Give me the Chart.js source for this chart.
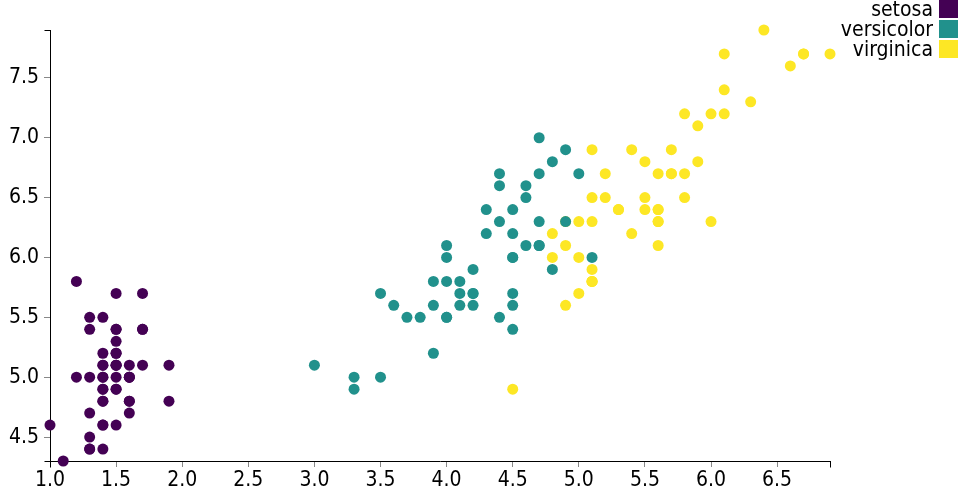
<!DOCTYPE html>
<html><head><meta charset="utf-8">
<script src="https://cdn.jsdelivr.net/npm/chart.js@4"></script>
<style>html,body{margin:0;padding:0;background:#fff}#wrap{width:960px;height:500px;position:relative}</style>
</head><body><div id="wrap"><canvas id="c" width="960" height="500"></canvas></div>
<script>
const species = ["setosa", "versicolor", "virginica"];
const colors = ["#440154", "#21918c", "#fde725"];
const setosaPetal = [1.4,1.4,1.3,1.5,1.4,1.7,1.4,1.5,1.4,1.5,1.5,1.6,1.4,1.1,1.2,1.5,1.3,1.4,1.7,1.5,1.7,1.5,1.0,1.7,1.9,1.6,1.6,1.5,1.4,1.6,1.6,1.5,1.5,1.4,1.5,1.2,1.3,1.4,1.3,1.5,1.3,1.3,1.3,1.6,1.9,1.4,1.6,1.4,1.5,1.4];
const setosaSepal = [5.1,4.9,4.7,4.6,5.0,5.4,4.6,5.0,4.4,4.9,5.4,4.8,4.8,4.3,5.8,5.7,5.4,5.1,5.7,5.1,5.4,5.1,4.6,5.1,4.8,5.0,5.0,5.2,5.2,4.7,4.8,5.4,5.2,5.5,4.9,5.0,5.5,4.9,4.4,5.1,5.0,4.5,4.4,5.0,5.1,4.8,5.1,4.6,5.3,5.0];
const versicolorPetal = [4.7,4.5,4.9,4.0,4.6,4.5,4.7,3.3,4.6,3.9,3.5,4.2,4.0,4.7,3.6,4.4,4.5,4.1,4.5,3.9,4.8,4.0,4.9,4.7,4.3,4.4,4.8,5.0,4.5,3.5,3.8,3.7,3.9,5.1,4.5,4.5,4.7,4.4,4.1,4.0,4.4,4.6,4.0,3.3,4.2,4.2,4.2,4.3,3.0,4.1];
const versicolorSepal = [7.0,6.4,6.9,5.5,6.5,5.7,6.3,4.9,6.6,5.2,5.0,5.9,6.0,6.1,5.6,6.7,5.6,5.8,6.2,5.6,5.9,6.1,6.3,6.1,6.4,6.6,6.8,6.7,6.0,5.7,5.5,5.5,5.8,6.0,5.4,6.0,6.7,6.3,5.6,5.5,5.5,6.1,5.8,5.0,5.6,5.7,5.7,6.2,5.1,5.7];
const virginicaPetal = [6.0,5.1,5.9,5.6,5.8,6.6,4.5,6.3,5.8,6.1,5.1,5.3,5.5,5.0,5.1,5.3,5.5,6.7,6.9,5.0,5.7,4.9,6.7,4.9,5.7,6.0,4.8,4.9,5.6,5.8,6.1,6.4,5.6,5.1,5.6,6.1,5.6,5.5,4.8,5.4,5.6,5.1,5.1,5.9,5.7,5.2,5.0,5.2,5.4,5.1];
const virginicaSepal = [6.3,5.8,7.1,6.3,6.5,7.6,4.9,7.3,6.7,7.2,6.5,6.4,6.8,5.7,5.8,6.4,6.5,7.7,7.7,6.0,6.9,5.6,7.7,6.3,6.7,7.2,6.2,6.1,6.4,7.2,7.4,7.9,6.4,6.3,6.1,7.7,6.3,6.4,6.0,6.9,6.7,6.9,5.8,6.8,6.7,6.7,6.3,6.5,6.2,5.9];
const xMin = 1.0, xMax = 6.9, yMin = 4.3, yMax = 7.9;

const FONT = "'DejaVu Sans Condensed', 'Liberation Sans Narrow', 'Roboto', sans-serif";
const pts = (xs, ys) => xs.map((x, i) => ({x: x, y: ys[i]}));
const series = [pts(setosaPetal, setosaSepal), pts(versicolorPetal, versicolorSepal), pts(virginicaPetal, virginicaSepal)];

const extras = {
  id: 'extras',
  afterDraw(chart) {
    const ctx = chart.ctx, xs = chart.scales.x, ys = chart.scales.y;
    ctx.save();
    ctx.strokeStyle = '#000'; ctx.lineWidth = 1;
    const l = Math.round(xs.getPixelForValue(xMin)) + 0.5, r = Math.round(xs.getPixelForValue(xMax)) + 0.5;
    const t = Math.round(ys.getPixelForValue(yMax)) + 0.5, b = Math.round(ys.getPixelForValue(yMin)) + 0.5;
    ctx.beginPath();
    ctx.moveTo(l - 6, t); ctx.lineTo(l, t);
    ctx.moveTo(l - 6, b); ctx.lineTo(l, b);
    ctx.moveTo(l, b); ctx.lineTo(l, b + 6);
    ctx.moveTo(r, b); ctx.lineTo(r, b + 6);
    ctx.stroke();
    // legend
    ctx.font = '21px ' + FONT;
    ctx.textAlign = 'right'; ctx.textBaseline = 'alphabetic';
    chart.data.datasets.forEach((ds, i) => {
      const y0 = i * 20;
      ctx.fillStyle = ds.backgroundColor;
      ctx.fillRect(939, y0, 19, 18);
      ctx.fillStyle = '#000';
      ctx.fillText(ds.label, 933, y0 + 16);
    });
    ctx.restore();
  }
};

new Chart(document.getElementById('c'), {
  type: 'scatter',
  data: {
    datasets: species.map((s, i) => ({
      label: s, data: series[i], backgroundColor: colors[i], borderWidth: 0,
      pointRadius: 5.5, pointHoverRadius: 5.5, clip: false
    }))
  },
  options: {
    responsive: false, animation: false, devicePixelRatio: 1,
    layout: {padding: {left: 0, right: 130, top: 30, bottom: 0}},
    plugins: {legend: {display: false}, tooltip: {enabled: false}},
    scales: {
      x: {
        type: 'linear', min: xMin, max: xMax,
        ticks: {stepSize: 0.5, includeBounds: false, color: '#000', padding: 1, maxRotation: 0,
                font: {family: FONT, size: 21}, callback: v => v.toFixed(1)},
        grid: {drawOnChartArea: false, drawTicks: true, tickLength: 6, color: '#888'},
        border: {color: '#000', width: 1},
        afterFit: s => { s.height = 39; }
      },
      y: {
        type: 'linear', min: yMin, max: yMax,
        ticks: {stepSize: 0.5, includeBounds: false, color: '#000', padding: 5,
                font: {family: FONT, size: 21}, callback: v => v.toFixed(1)},
        grid: {drawOnChartArea: false, drawTicks: true, tickLength: 6, color: '#888'},
        border: {color: '#000', width: 1},
        afterFit: s => { s.width = 50; }
      }
    }
  },
  plugins: [extras]
});
</script></body></html>
